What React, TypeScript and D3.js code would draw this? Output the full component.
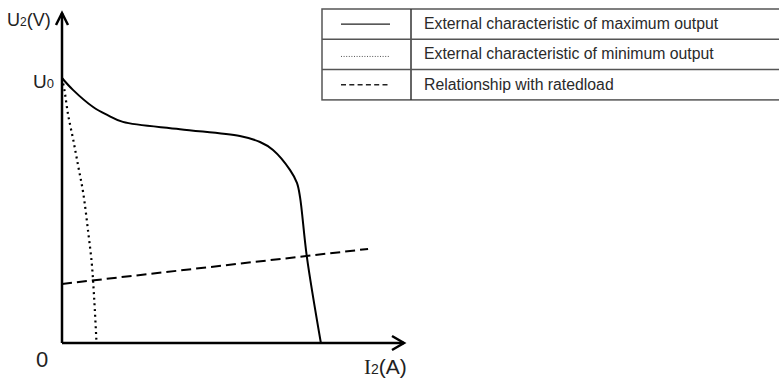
import { useMemo } from "react";
import * as d3 from "d3";

const WIDTH = 779;
const HEIGHT = 382;

// curve values in arbitrary units (x: current I2, y: voltage U2)
const maxOutputX = [0, 3.2, 9.1, 13.2, 17.8, 34.5, 52.0, 57.9, 61.7, 66.7, 68.7, 69.6, 71.6, 75.7];
const maxOutputY = [80.3, 76.7, 71.5, 69.1, 67.0, 64.8, 62.7, 60.9, 58.5, 52.4, 48.5, 44.2, 26.1, 0];

const minOutputX = [0, 0.7, 1.8, 3.3, 4.8, 6.2, 7.7, 8.7, 9.2, 9.6, 10.1];
const minOutputY = [80.3, 76.7, 69.1, 61.5, 53.3, 45.5, 33.3, 24.2, 17.0, 10.0, 0];

const ratedLoadX = [0, 89.5];
const ratedLoadY = [17.9, 28.5];

const legendLabels = [
  "External characteristic of maximum output",
  "External characteristic of minimum output",
  "Relationship with ratedload",
];
const legendDash = ["none", "1 1.6", "5 3.3"];

const U0 = 80.3;

const App = () => {
  const x = useMemo(() => d3.scaleLinear().domain([0, 100]).range([62, 404]), []);
  const y = useMemo(() => d3.scaleLinear().domain([0, 100]).range([343, 13]), []);

  const smooth = d3
    .line<[number, number]>()
    .x((d) => x(d[0]))
    .y((d) => y(d[1]))
    .curve(d3.curveCatmullRom.alpha(0.5));
  const straight = d3
    .line<[number, number]>()
    .x((d) => x(d[0]))
    .y((d) => y(d[1]));

  const maxPts = maxOutputX.map((v, i) => [v, maxOutputY[i]] as [number, number]);
  const minPts = minOutputX.map((v, i) => [v, minOutputY[i]] as [number, number]);
  const loadPts = ratedLoadX.map((v, i) => [v, ratedLoadY[i]] as [number, number]);

  const x0 = x(0);
  const y0 = y(0);
  const xEnd = x(100);
  const yEnd = y(100);

  // legend table
  const tLeft = 322;
  const tDiv = 411;
  const tTop = 9;
  const rowH = 30.3;

  return (
    <svg
      width={WIDTH}
      height={HEIGHT}
      style={{ position: "absolute", left: 0, top: 0, background: "#fff" }}
    >
      {/* curves */}
      <path d={smooth(maxPts) || ""} fill="none" stroke="#000" strokeWidth={2} />
      <path
        d={smooth(minPts) || ""}
        fill="none"
        stroke="#000"
        strokeWidth={2.2}
        strokeDasharray="2 3.7"
      />
      <path
        d={straight(loadPts) || ""}
        fill="none"
        stroke="#000"
        strokeWidth={2}
        strokeDasharray="10 5"
      />

      {/* axes */}
      <g stroke="#000" strokeWidth={2.5} fill="none" strokeLinecap="butt">
        <line x1={x0} y1={y0} x2={x0} y2={yEnd} />
        <line x1={x0} y1={y0} x2={xEnd} y2={y0} />
        <polyline points={`${x0 - 6},${yEnd + 12} ${x0},${yEnd} ${x0 + 6},${yEnd + 12}`} />
        <polyline points={`${xEnd - 12},${y0 - 7} ${xEnd},${y0} ${xEnd - 12},${y0 + 7}`} />
      </g>

      {/* axis labels */}
      <g fontFamily="Liberation Sans, Arial, sans-serif" fill="#222">
        <text x={7} y={26} fontSize={18}>
          U<tspan fontSize={12}>2</tspan>(V)
        </text>
        <text x={33} y={y(U0) + 10} fontSize={19}>
          U<tspan fontSize={13}>0</tspan>
        </text>
        <text x={36} y={367} fontSize={22}>
          0
        </text>
        <text x={364} y={374} fontSize={21}>
          <tspan fontFamily="Liberation Serif, serif">I</tspan>
          <tspan fontSize={14}>2</tspan>(A)
        </text>
      </g>

      {/* legend table */}
      <g>
        <rect
          x={tLeft}
          y={tTop}
          width={WIDTH + 10 - tLeft}
          height={rowH * 3}
          fill="none"
          stroke="#555"
          strokeWidth={1.5}
        />
        <line x1={tDiv} y1={tTop} x2={tDiv} y2={tTop + rowH * 3} stroke="#333" strokeWidth={1.5} />
        {legendLabels.map((label, i) => {
          const cy = tTop + rowH * i + rowH / 2;
          return (
            <g key={label}>
              {i > 0 && (
                <line
                  x1={tLeft}
                  x2={WIDTH + 10}
                  y1={tTop + rowH * i}
                  y2={tTop + rowH * i}
                  stroke="#555"
                  strokeWidth={1.5}
                />
              )}
              <line
                x1={341}
                x2={390}
                y1={i === 1 ? cy + 2 : cy}
                y2={i === 1 ? cy + 2 : cy}
                stroke={i === 1 ? "#555" : "#222"}
                strokeWidth={i === 1 ? 1 : 1.4}
                strokeDasharray={legendDash[i]}
              />
              <text
                x={424}
                y={cy + 5}
                fontSize={15.8}
                fontFamily="Liberation Sans, Arial, sans-serif"
                fill="#2a2a2a"
              >
                {label}
              </text>
            </g>
          );
        })}
      </g>
    </svg>
  );
};

export default App;
